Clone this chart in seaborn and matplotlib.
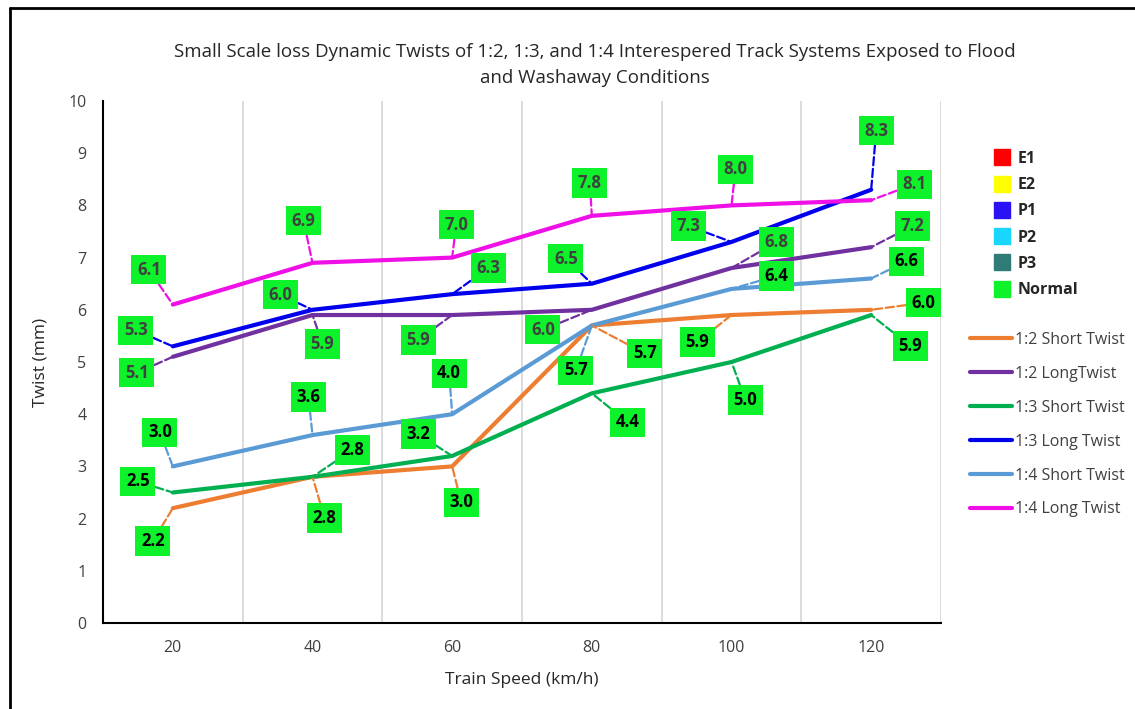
import pandas as pd
import matplotlib.pyplot as plt
import seaborn as sns
from matplotlib.lines import Line2D

speeds = [20, 40, 60, 80, 100, 120]
short_12 = [2.2, 2.8, 3.0, 5.7, 5.9, 6.0]
long_12 = [5.1, 5.9, 5.9, 6.0, 6.8, 7.2]
short_13 = [2.5, 2.8, 3.2, 4.4, 5.0, 5.9]
long_13 = [5.3, 6.0, 6.3, 6.5, 7.3, 8.3]
short_14 = [3.0, 3.6, 4.0, 5.7, 6.4, 6.6]
long_14 = [6.1, 6.9, 7.0, 7.8, 8.0, 8.1]

names = ['1:2 Short Twist', '1:2 LongTwist', '1:3 Short Twist',
         '1:3 Long Twist', '1:4 Short Twist', '1:4 Long Twist']
series = [short_12, long_12, short_13, long_13, short_14, long_14]
colors = ['#ED7D31', '#7030A0', '#00B050', '#0000EE', '#5B9BD5', '#EE10E6']

status_names = ['E1', 'E2', 'P1', 'P2', 'P3', 'Normal']
status_colors = ['#FF0000', '#FFFF00', '#2A12F5', '#1AD6FF', '#2F7B78', '#0DF22A']

# label offsets (pixels) for each point
offsets = {
    '1:2 Short Twist': [(-20, -33), (12, -41), (9, -36), (53, -28), (-34, -27), (52, 7)],
    '1:2 LongTwist': [(-36, -16), (10, -29), (-34, -25), (-49, -20), (45, 26), (41, 21)],
    '1:3 Short Twist': [(-35, 11), (40, 27), (-34, 22), (36, -29), (14, -38), (39, -31)],
    '1:3 Long Twist': [(-37, 16), (-32, 15), (36, 26), (-26, 25), (-43, 16), (5, 59)],
    '1:4 Short Twist': [(-13, 34), (-4, 38), (-3, 41), (-16, -45), (45, 13), (35, 17)],
    '1:4 Long Twist': [(-24, 35), (-9, 42), (4, 33), (-2, 33), (4, 36), (43, 16)],
}
gray_text = {'1:2 LongTwist', '1:3 Long Twist', '1:4 Long Twist'}

rows = []
for n, vals in zip(names, series):
    for s, v in zip(speeds, vals):
        rows.append({'Speed': s, 'Twist': v, 'Series': n})
df = pd.DataFrame(rows)

sns.set_style('white')
plt.rcParams['font.family'] = ['Open Sans', 'DejaVu Sans']

fig = plt.figure(figsize=(11.35, 7.09), dpi=100)
ax = fig.add_axes([103 / 1135, 86 / 709, 838 / 1135, 522 / 709])

sns.lineplot(data=df, x='Speed', y='Twist', hue='Series', hue_order=names,
             palette=colors, linewidth=3, ax=ax, legend=False, zorder=3)

ax.set_xlim(10, 130)
ax.set_ylim(0, 10)
ax.set_xticks(speeds)
ax.set_xticks([30, 50, 70, 90, 110, 130], minor=True)
ax.set_yticks(range(0, 11))
ax.grid(which='minor', axis='x', color='#D9D9D9', linewidth=1.3)
ax.grid(which='major', visible=False)
ax.tick_params(axis='both', which='both', length=0, labelsize=11.5, colors='#404040')
ax.tick_params(axis='x', pad=12)
ax.tick_params(axis='y', pad=12)
for side in ['top', 'right']:
    ax.spines[side].set_visible(False)
for side in ['left', 'bottom']:
    ax.spines[side].set_color('black')
    ax.spines[side].set_linewidth(1.5)

ax.set_xlabel('Train Speed (km/h)', fontsize=12.5, color='#262626', labelpad=12)
ax.set_ylabel('Twist (mm)', fontsize=12.5, color='#262626', labelpad=14)

for n, vals, c in zip(names, series, colors):
    tc = '#404040' if n in gray_text else 'black'
    for s, v, off in zip(speeds, vals, offsets[n]):
        ax.annotate(f'{v:.1f}', xy=(s, v), xytext=off, textcoords='offset pixels',
                    ha='center', va='center', fontsize=12, fontweight='bold', color=tc,
                    bbox=dict(boxstyle='square,pad=0.34', fc='#0DF22A', ec='none'),
                    arrowprops=dict(arrowstyle='-', color=c, linestyle='--', linewidth=1.6,
                                    shrinkA=0, shrinkB=0),
                    zorder=5)

fig.text(595 / 1135, 1 - 43 / 709,
         'Small Scale loss Dynamic Twists of 1:2, 1:3, and 1:4 Interespered Track Systems Exposed to Flood\nand Washaway Conditions',
         ha='center', va='top', fontsize=13.5, color='#262626', linespacing=1.6)

status_handles = [Line2D([], [], linestyle='none', marker='s', markersize=12,
                         markerfacecolor=c, markeredgecolor=c) for c in status_colors]
leg1 = fig.legend(status_handles, status_names, loc='upper left',
                  bbox_to_anchor=(994 / 1135, 1 - 151 / 709), frameon=False,
                  borderpad=0, borderaxespad=0, handlelength=1, handletextpad=0.45,
                  labelspacing=0.64, prop={'weight': 'bold', 'size': 11.5})
for t in leg1.get_texts():
    t.set_color('#262626')

line_handles = [Line2D([], [], color=c, linewidth=3) for c in colors]
leg2 = fig.legend(line_handles, names, loc='upper left',
                  bbox_to_anchor=(970 / 1135, 1 - 332 / 709), frameon=False,
                  borderpad=0, borderaxespad=0, handlelength=2.6, handletextpad=0.2,
                  labelspacing=1.12, prop={'size': 11.5})
for t in leg2.get_texts():
    t.set_color('#404040')

fig.add_artist(Line2D([10 / 1135, 10 / 1135], [0, 1 - 8 / 709], color='black',
                      linewidth=2, transform=fig.transFigure))
fig.add_artist(Line2D([10 / 1135, 1], [1 - 8 / 709, 1 - 8 / 709], color='black',
                      linewidth=2, transform=fig.transFigure))

fig.savefig('out.png', dpi=100)
